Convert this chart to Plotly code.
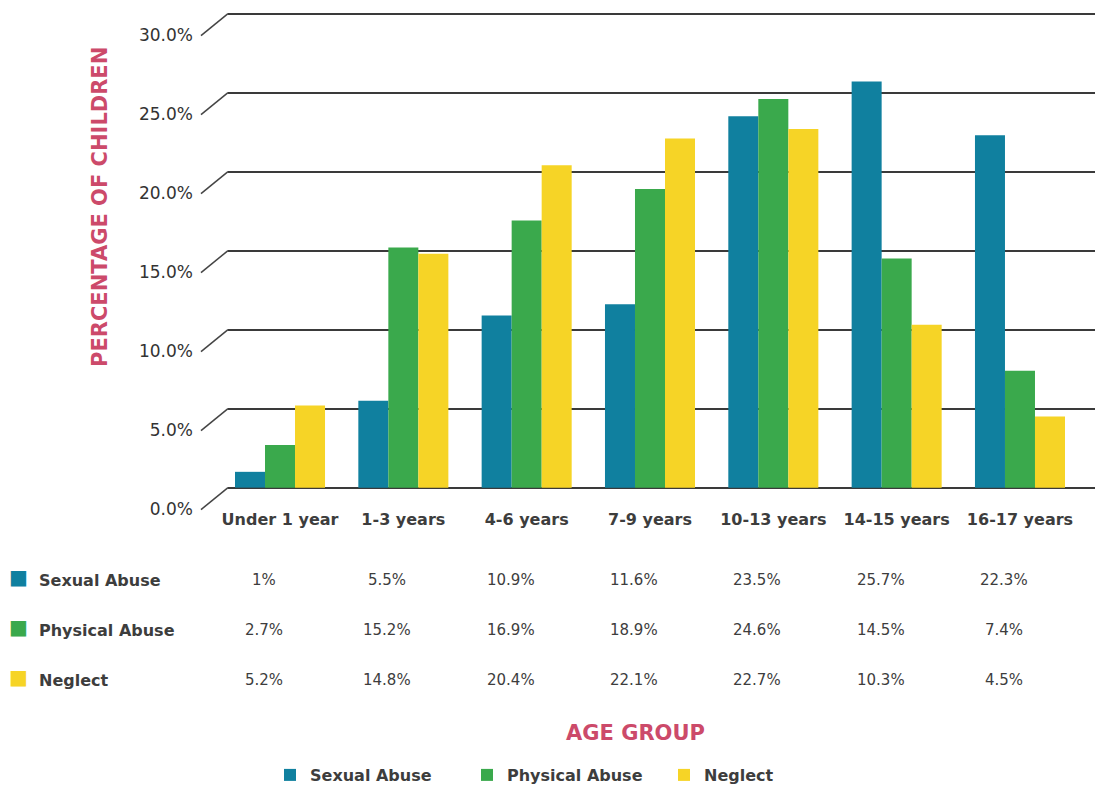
import plotly.graph_objects as go

# Share of children by age group for each maltreatment type (percent)
age_groups = ["Under 1 year", "1-3 years", "4-6 years", "7-9 years",
              "10-13 years", "14-15 years", "16-17 years"]
sexual_abuse = [1, 5.5, 10.9, 11.6, 23.5, 25.7, 22.3]
physical_abuse = [2.7, 15.2, 16.9, 18.9, 24.6, 14.5, 7.4]
neglect = [5.2, 14.8, 20.4, 22.1, 22.7, 10.3, 4.5]
y_ticks = [0, 5, 10, 15, 20, 25, 30]

series = [
    ("Sexual Abuse", sexual_abuse, "#10809f"),
    ("Physical Abuse", physical_abuse, "#3aa94c"),
    ("Neglect", neglect, "#f6d426"),
]

FONT = "DejaVu Sans"
TEXT = "#3d3d3d"
ACCENT = "#cc4a6a"

W, H = 1095, 792
L, R, T, B = 228, 0, 12, 302
plot_w = W - L - R
plot_h = H - T - B
Y0, Y1 = -0.15, 30.1


def ypaper(v):
    return (v - Y0) / (Y1 - Y0)


fig = go.Figure()
for name, vals, color in series:
    fig.add_trace(go.Bar(
        x=list(range(len(age_groups))), y=vals, name=name,
        marker=dict(color=color, line=dict(width=0)),
        hoverinfo="skip",
    ))

annotations = []
shapes = []

# Short slanted segments at the left end of each gridline (wall edge)
dx = 27 / plot_w
for v in y_ticks:
    yp = ypaper(v)
    shapes.append(dict(type="line", xref="paper", yref="paper",
                       x0=-dx, y0=yp - 22 / plot_h, x1=0, y1=yp,
                       line=dict(color="#444", width=1.5)))

# Data table under the chart
row_y = [580, 630, 680]
for (name, vals, color), ypx in zip(series, row_y):
    yp = (H - B - ypx) / plot_h
    annotations.append(dict(xref="paper", yref="paper", x=(18 - L) / plot_w, y=yp,
                            yshift=3, text="■", showarrow=False, xanchor="center",
                            yanchor="middle", font=dict(size=20, color=color, family=FONT)))
    annotations.append(dict(xref="paper", yref="paper", x=(37 - L) / plot_w, y=yp,
                            text=f"<b>{name}</b>", showarrow=False, xanchor="left",
                            yanchor="middle", font=dict(size=16, color=TEXT, family=FONT)))
    for i, v in enumerate(vals):
        annotations.append(dict(xref="x", yref="paper", x=i, y=yp, xshift=-16,
                                text=f"{v:g}%", showarrow=False, xanchor="center",
                                yanchor="middle", font=dict(size=15, color=TEXT, family=FONT)))

# Axis titles
annotations.append(dict(xref="paper", yref="paper", x=(100 - L) / plot_w,
                        y=(H - B - 207) / plot_h, text="<b>PERCENTAGE OF CHILDREN</b>",
                        textangle=-90, showarrow=False, xanchor="center", yanchor="middle",
                        font=dict(size=21, color=ACCENT, family=FONT)))
annotations.append(dict(xref="paper", yref="paper", x=(635 - L) / plot_w,
                        y=(H - B - 733) / plot_h, text="<b>AGE GROUP</b>",
                        showarrow=False, xanchor="center", yanchor="middle",
                        font=dict(size=21, color=ACCENT, family=FONT)))

fig.update_layout(
    width=W, height=H,
    margin=dict(l=L, r=R, t=T, b=B),
    paper_bgcolor="white", plot_bgcolor="white",
    barmode="group", bargap=0.27, bargroupgap=0,
    font=dict(family=FONT, color=TEXT),
    showlegend=True,
    legend=dict(orientation="h", xref="paper", yref="paper",
                x=(270 - L) / plot_w, y=(H - B - 775) / plot_h,
                xanchor="left", yanchor="middle",
                entrywidth=152, entrywidthmode="pixels",
                font=dict(size=16, color=TEXT, family=FONT, weight="bold"),
                itemclick=False, itemdoubleclick=False),
    xaxis=dict(
        range=[-(280 - L) / 123.3, 6 + (W - 1020) / 123.3],
        tickmode="array", tickvals=list(range(len(age_groups))),
        ticktext=[f"<b>{a}</b>" for a in age_groups],
        tickfont=dict(size=16, color=TEXT, family=FONT),
        showgrid=False, zeroline=False, showline=False,
        ticks="", ticklabelstandoff=18,
    ),
    yaxis=dict(
        range=[Y0, Y1], tickmode="array", tickvals=y_ticks,
        ticktext=[f"{v:.1f}%" for v in y_ticks],
        tickfont=dict(size=17, color="#333", family=FONT),
        showgrid=True, gridcolor="#3a3a3a", gridwidth=1.6,
        zeroline=False, showline=False, ticks="",
        ticklabelshift=21, ticklabelstandoff=34,
    ),
    shapes=shapes,
    annotations=annotations,
)

fig.write_html("out.html")
